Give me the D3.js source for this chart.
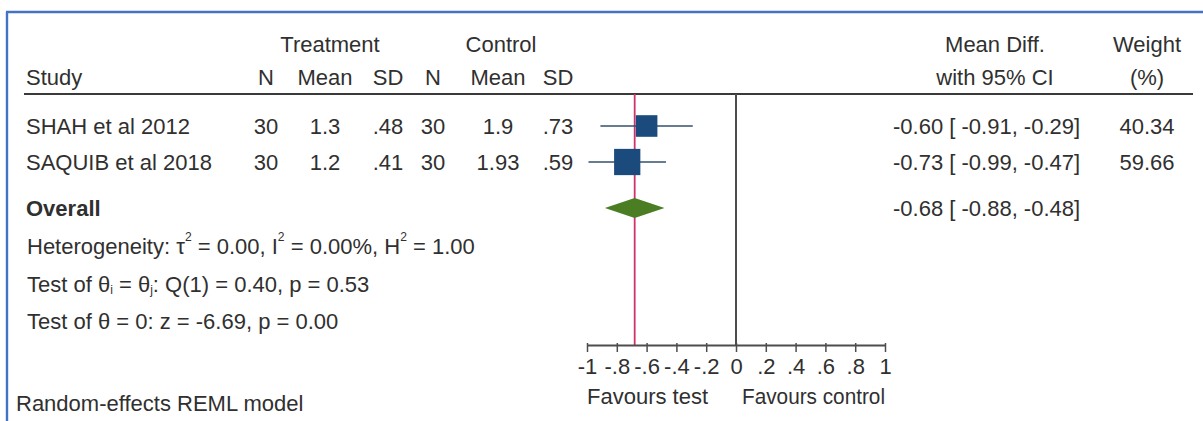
<!DOCTYPE html>
<html>
<head>
<meta charset="utf-8">
<script src="https://cdn.jsdelivr.net/npm/d3@7/dist/d3.min.js"></script>
<style>
  html, body { margin: 0; padding: 0; background: #fff; }
  svg { display: block; font-family: "Liberation Sans", Arial, sans-serif; }
</style>
</head>
<body>
<svg id="chart" width="1203" height="421"></svg>
<script>
// Study-level data
const studies   = ["SHAH et al 2012", "SAQUIB et al 2018"];
const treatN    = [30, 30];
const treatMean = ["1.3", "1.2"];
const treatSD   = [".48", ".41"];
const ctrlN     = [30, 30];
const ctrlMean  = ["1.9", "1.93"];
const ctrlSD    = [".73", ".59"];
const meanDiff  = [-0.60, -0.73];
const ciLow     = [-0.91, -0.99];
const ciHigh    = [-0.29, -0.47];
const weights   = [40.34, 59.66];

// Pooled estimate
const overallDiff = -0.68;
const overallLow  = -0.88;
const overallHigh = -0.48;

// Axis ticks and labels
const tickValues = [-1, -0.8, -0.6, -0.4, -0.2, 0, 0.2, 0.4, 0.6, 0.8, 1];
const tickLabels = ["-1", "-.8", "-.6", "-.4", "-.2", "0", ".2", ".4", ".6", ".8", "1"];

const svg = d3.select("#chart");
const txt = "#303030";
const fs = 22;

// Frame
svg.append("line").attr("x1", 6).attr("x2", 1203).attr("y1", 12).attr("y2", 12)
  .attr("stroke", "#4472c4").attr("stroke-width", 2.4);
svg.append("line").attr("x1", 7).attr("x2", 7).attr("y1", 12).attr("y2", 421)
  .attr("stroke", "#4472c4").attr("stroke-width", 2.4);

const x = d3.scaleLinear().domain([-1, 1]).range([587, 885]);

const rowY = d3.scalePoint().domain(d3.range(studies.length)).range([126, 162]);
const yOverall = 208;
const yTop = 94, yAxis = 345;

function text(xp, yp, s, anchor, extra) {
  const t = svg.append("text").attr("x", xp).attr("y", yp)
    .attr("dominant-baseline", "central")
    .attr("text-anchor", anchor || "start")
    .attr("font-size", fs).attr("fill", txt).text(s);
  if (extra) extra(t);
  return t;
}

// Column headers
const colTN = 266, colTM = 325, colTS = 388, colCN = 433, colCM = 498, colCS = 558;
const colCI = 893, colW = 1147, colMD = 995;
text(330, 44, "Treatment", "middle");
text(501, 44, "Control", "middle");
text(colMD, 44, "Mean Diff.", "middle");
text(colW, 44, "Weight", "middle");
text(26, 77, "Study");
text(colTN, 77, "N", "middle");
text(colTM, 77, "Mean", "middle");
text(colTS, 77, "SD", "middle");
text(colCN, 77, "N", "middle");
text(colCM, 77, "Mean", "middle");
text(colCS, 77, "SD", "middle");
text(colMD, 77, "with 95% CI", "middle");
text(colW, 77, "(%)", "middle");

// Header rule
svg.append("line").attr("x1", 24).attr("x2", 1193).attr("y1", yTop).attr("y2", yTop)
  .attr("stroke", "#3a3a3a").attr("stroke-width", 2.2);

// Reference lines: no effect and pooled estimate
svg.append("line").attr("x1", x(0)).attr("x2", x(0)).attr("y1", yTop).attr("y2", yAxis)
  .attr("stroke", "#4d4d4d").attr("stroke-width", 2);
svg.append("line").attr("x1", x(overallDiff)).attr("x2", x(overallDiff)).attr("y1", yTop).attr("y2", yAxis)
  .attr("stroke", "#d0336b").attr("stroke-width", 1.8);

const f2 = v => v.toFixed(2);
const ci = (m, l, h) => `${f2(m)} [ ${f2(l)},  ${f2(h)}]`;

// Study rows
studies.forEach((s, i) => {
  const y = rowY(i);
  text(26, y, s);
  text(colTN, y, treatN[i], "middle");
  text(colTM, y, treatMean[i], "middle");
  text(colTS, y, treatSD[i], "middle");
  text(colCN, y, ctrlN[i], "middle");
  text(colCM, y, ctrlMean[i], "middle");
  text(colCS, y, ctrlSD[i], "middle");
  text(colCI, y, ci(meanDiff[i], ciLow[i], ciHigh[i]));
  text(colW, y, f2(weights[i]), "middle");

  svg.append("line").attr("x1", x(ciLow[i])).attr("x2", x(ciHigh[i]))
    .attr("y1", y).attr("y2", y).attr("stroke", "#34506f").attr("stroke-width", 1.6);
  const side = 3.4 * Math.sqrt(weights[i]);
  svg.append("rect").attr("x", x(meanDiff[i]) - side / 2).attr("y", y - side / 2)
    .attr("width", side).attr("height", side).attr("fill", "#1b4a7c");
});

// Overall row
text(26, yOverall, "Overall", "start", t => t.attr("font-weight", "bold"));
text(colCI, yOverall, ci(overallDiff, overallLow, overallHigh));
const dh = 10;
svg.append("path")
  .attr("d", `M${x(overallLow)},${yOverall} L${x(overallDiff)},${yOverall - dh} L${x(overallHigh)},${yOverall} L${x(overallDiff)},${yOverall + dh} Z`)
  .attr("fill", "#4b7d22");

// Heterogeneity and tests
const small = fs * 0.55;
const sup = (t, s) => t.append("tspan").attr("font-size", small).attr("dy", -9).text(s);
const sub = (t, s) => t.append("tspan").attr("font-size", small).attr("dy", 6).text(s);
const back = (t, s, dy) => t.append("tspan").attr("dy", dy).text(s);
{
  const t = text(27, 246, "");
  t.append("tspan").text("Heterogeneity: τ");
  sup(t, "2"); back(t, " = 0.00, I", 9);
  sup(t, "2"); back(t, " = 0.00%, H", 9);
  sup(t, "2"); back(t, " = 1.00", 9);
}
{
  const t = text(27, 284, "");
  t.append("tspan").text("Test of θ");
  sub(t, "i"); back(t, " = θ", -6);
  sub(t, "j"); back(t, ": Q(1) = 0.40, p = 0.53", -6);
}
text(27, 321, "Test of θ = 0: z = -6.69, p = 0.00");
text(16, 403, "Random-effects REML model");

// Axis
const axis = d3.axisBottom(x).tickValues(tickValues)
  .tickFormat((d, i) => tickLabels[i]).tickSize(7).tickPadding(6).tickSizeOuter(0);
const ag = svg.append("g").attr("transform", `translate(0,${yAxis})`).call(axis);
ag.select(".domain").attr("stroke", "#4d4d4d").attr("stroke-width", 1.8);
ag.selectAll(".tick line").attr("stroke", "#4d4d4d").attr("stroke-width", 1.5).attr("y1", -2);
ag.selectAll(".tick text").attr("font-size", fs).attr("fill", txt)
  .attr("font-family", "Liberation Sans, Arial, sans-serif");

text(x(-1), 396, "Favours test", "start");
text(x(1), 396, "Favours control", "end", t => t.attr("textLength", 143).attr("lengthAdjust", "spacingAndGlyphs"));
</script>
</body>
</html>
